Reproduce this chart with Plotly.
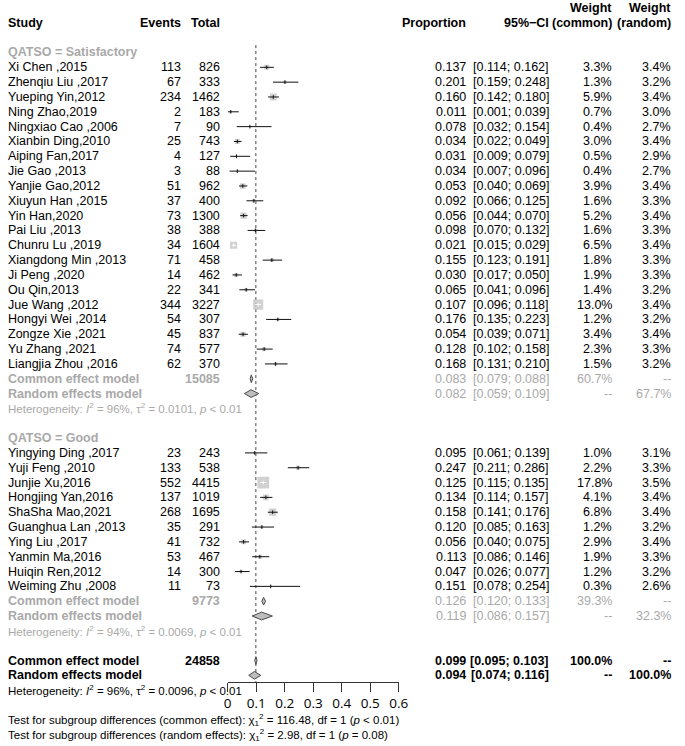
import math
import plotly.graph_objects as go

# ---------------- data ----------------
sat_names = ["Xi Chen ,2015", "Zhenqiu Liu ,2017", "Yueping Yin,2012", "Ning Zhao,2019",
             "Ningxiao Cao ,2006", "Xianbin Ding,2010", "Aiping Fan,2017", "Jie Gao ,2013",
             "Yanjie Gao,2012", "Xiuyun Han ,2015", "Yin Han,2020", "Pai Liu ,2013",
             "Chunru Lu ,2019", "Xiangdong Min ,2013", "Ji Peng ,2020", "Ou Qin,2013",
             "Jue Wang ,2012", "Hongyi Wei ,2014", "Zongze Xie ,2021", "Yu Zhang ,2021",
             "Liangjia Zhou ,2016"]
sat_events = [113, 67, 234, 2, 7, 25, 4, 3, 51, 37, 73, 38, 34, 71, 14, 22, 344, 54, 45, 74, 62]
sat_totals = [826, 333, 1462, 183, 90, 743, 127, 88, 962, 400, 1300, 388, 1604, 458, 462, 341,
              3227, 307, 837, 577, 370]
sat_prop = [0.137, 0.201, 0.160, 0.011, 0.078, 0.034, 0.031, 0.034, 0.053, 0.092, 0.056, 0.098,
            0.021, 0.155, 0.030, 0.065, 0.107, 0.176, 0.054, 0.128, 0.168]
sat_lo = [0.114, 0.159, 0.142, 0.001, 0.032, 0.022, 0.009, 0.007, 0.040, 0.066, 0.044, 0.070,
          0.015, 0.123, 0.017, 0.041, 0.096, 0.135, 0.039, 0.102, 0.131]
sat_hi = [0.162, 0.248, 0.180, 0.039, 0.154, 0.049, 0.079, 0.096, 0.069, 0.125, 0.070, 0.132,
          0.029, 0.191, 0.050, 0.096, 0.118, 0.223, 0.071, 0.158, 0.210]
sat_wc = [3.3, 1.3, 5.9, 0.7, 0.4, 3.0, 0.5, 0.4, 3.9, 1.6, 5.2, 1.6, 6.5, 1.8, 1.9, 1.4, 13.0,
          1.2, 3.4, 2.3, 1.5]
sat_wr = [3.4, 3.2, 3.4, 3.0, 2.7, 3.4, 2.9, 2.7, 3.4, 3.3, 3.4, 3.3, 3.4, 3.3, 3.3, 3.2, 3.4,
          3.2, 3.4, 3.3, 3.2]
sat_common = [0.083, 0.079, 0.088]
sat_random = [0.082, 0.059, 0.109]
sat_common_w = 60.7
sat_random_w = 67.7
sat_total = 15085
sat_het = ["96%", "0.0101", "0.01"]

good_names = ["Yingying Ding ,2017", "Yuji Feng ,2010", "Junjie Xu,2016", "Hongjing Yan,2016",
              "ShaSha Mao,2021", "Guanghua Lan ,2013", "Ying Liu ,2017", "Yanmin Ma,2016",
              "Huiqin Ren,2012", "Weiming Zhu ,2008"]
good_events = [23, 133, 552, 137, 268, 35, 41, 53, 14, 11]
good_totals = [243, 538, 4415, 1019, 1695, 291, 732, 467, 300, 73]
good_prop = [0.095, 0.247, 0.125, 0.134, 0.158, 0.120, 0.056, 0.113, 0.047, 0.151]
good_lo = [0.061, 0.211, 0.115, 0.114, 0.141, 0.085, 0.040, 0.086, 0.026, 0.078]
good_hi = [0.139, 0.286, 0.135, 0.157, 0.176, 0.163, 0.075, 0.146, 0.077, 0.254]
good_wc = [1.0, 2.2, 17.8, 4.1, 6.8, 1.2, 2.9, 1.9, 1.2, 0.3]
good_wr = [3.1, 3.3, 3.5, 3.4, 3.4, 3.2, 3.4, 3.3, 3.2, 2.6]
good_common = [0.126, 0.120, 0.133]
good_random = [0.119, 0.086, 0.157]
good_common_w = 39.3
good_random_w = 32.3
good_total = 9773
good_het = ["94%", "0.0069", "0.01"]

all_common = [0.099, 0.095, 0.103]
all_random = [0.094, 0.074, 0.116]
all_total = 24858
all_het = ["96%", "0.0096", "0.01"]

tick_vals = [0, 0.1, 0.2, 0.3, 0.4, 0.5, 0.6]
tick_text = ["0", "0.1", "0.2", "0.3", "0.4", "0.5", "0.6"]

test_common = "Test for subgroup differences (common effect): χ<sub>1</sub><sup>2</sup> = 116.48, df = 1 (<i>p</i> &lt; 0.01)"
test_random = "Test for subgroup differences (random effects): χ<sub>1</sub><sup>2</sup> = 2.98, df = 1 (<i>p</i> = 0.08)"

# ---------------- layout constants ----------------
W, H = 685, 746
ROW0, ROWH = 8.0, 14.83
AXIS_PX = 682.0
X0_PX, X6_PX = 228.3, 403.0
PX_PER_UNIT = (X6_PX - X0_PX) / 0.6

COL_STUDY = 3
COL_EVENTS = 182
COL_TOTAL = 222
COL_PROP = 473
COL_CI = 557
COL_WC = 622
COL_WR = 682

GREY = "#a9a9a9"
SQ = "#bebebe"
TXT_FONT = "Liberation Sans, Arial, sans-serif"
NUM_FONT = "Liberation Sans, Arial, sans-serif"
FS = 12.5
NFS = 12.5

annotations = []


def txt(xpx, r, s, anchor="left", bold=False, color="black", size=FS, font=TXT_FONT):
    if bold:
        s = "<b>" + s + "</b>"
    annotations.append(dict(x=xpx / W, xref="paper", y=r, yref="y", text=s, xanchor=anchor,
                            yanchor="middle", showarrow=False, borderpad=0,
                            font=dict(family=font, size=size, color=color)))


def num(xpx, r, s, bold=False, color="black"):
    txt(xpx, r, s, "right", bold, color, NFS, NUM_FONT)


def ci_str(lo, hi):
    return "[%.3f; %.3f]" % (lo, hi)


# headers
txt(COL_WC, 0, "Weight", "right", True)
txt(COL_WR, 0, "Weight", "right", True)
txt(COL_STUDY, 1, "Study", "left", True)
txt(COL_EVENTS, 1, "Events", "right", True)
txt(COL_TOTAL, 1, "Total", "right", True)
txt(COL_PROP, 1, "Proportion", "right", True)
txt(COL_CI, 1, "95%−CI", "right", True)
txt(COL_WC, 1, "(common)", "right", True)
txt(COL_WR, 1, "(random)", "right", True)

study_x, study_y, study_lo, study_hi, study_w = [], [], [], [], []
diamonds = []

groups = [
    ("QATSO = Satisfactory", sat_names, sat_events, sat_totals, sat_prop, sat_lo, sat_hi, sat_wc,
     sat_wr, sat_common, sat_random, sat_common_w, sat_random_w, sat_total, sat_het),
    ("QATSO = Good", good_names, good_events, good_totals, good_prop, good_lo, good_hi, good_wc,
     good_wr, good_common, good_random, good_common_w, good_random_w, good_total, good_het),
]


def het_text(h):
    return ("Heterogeneity: <i>I</i><sup>2</sup> = %s, τ<sup>2</sup> = %s, <i>p</i> &lt; %s"
            % (h[0], h[1], h[2]))


r = 3
for (title, names, ev, tot, prop, lo, hi, wc, wr, com, ran, comw, ranw, total, het) in groups:
    txt(COL_STUDY, r, title, "left", True, GREY)
    r += 1
    for i in range(len(names)):
        txt(COL_STUDY, r, names[i])
        txt(COL_EVENTS, r, str(ev[i]), "right")
        txt(COL_TOTAL, r, str(tot[i]), "right")
        num(COL_PROP, r, "%.3f" % prop[i])
        num(COL_CI, r, ci_str(lo[i], hi[i]))
        num(COL_WC, r, "%.1f%%" % wc[i])
        num(COL_WR, r, "%.1f%%" % wr[i])
        study_x.append(prop[i]); study_y.append(r)
        study_lo.append(lo[i]); study_hi.append(hi[i]); study_w.append(wc[i])
        r += 1
    # common
    txt(COL_STUDY, r, "Common effect model", "left", True, GREY)
    txt(COL_TOTAL, r, str(total), "right", True, GREY)
    num(COL_PROP, r, "%.3f" % com[0], color=GREY)
    num(COL_CI, r, ci_str(com[1], com[2]), color=GREY)
    num(COL_WC, r, "%.1f%%" % comw, color=GREY)
    num(COL_WR, r, "--", color=GREY)
    diamonds.append((com, r))
    r += 1
    txt(COL_STUDY, r, "Random effects model", "left", True, GREY)
    num(COL_PROP, r, "%.3f" % ran[0], color=GREY)
    num(COL_CI, r, ci_str(ran[1], ran[2]), color=GREY)
    num(COL_WC, r, "--", color=GREY)
    num(COL_WR, r, "%.1f%%" % ranw, color=GREY)
    diamonds.append((ran, r))
    r += 1
    txt(COL_STUDY, r, het_text(het), "left", color=GREY, size=11.5)
    r += 2

# overall
txt(COL_STUDY, r, "Common effect model", "left", True)
txt(COL_TOTAL, r, str(all_total), "right", True)
num(COL_PROP, r, "%.3f" % all_common[0], True)
num(COL_CI, r, ci_str(all_common[1], all_common[2]), True)
num(COL_WC, r, "100.0%", True)
num(COL_WR, r, "--", True)
diamonds.append((all_common, r))
r += 1
txt(COL_STUDY, r, "Random effects model", "left", True)
num(COL_PROP, r, "%.3f" % all_random[0], True)
num(COL_CI, r, ci_str(all_random[1], all_random[2]), True)
num(COL_WC, r, "--", True)
num(COL_WR, r, "100.0%", True)
diamonds.append((all_random, r))
r += 1
txt(COL_STUDY, r, het_text(all_het), "left", size=11.5)
r += 2
txt(COL_STUDY, r, test_common, "left", size=11.5)
r += 1
txt(COL_STUDY, r, test_random, "left", size=11.5)

# ---------------- traces ----------------
fig = go.Figure()
r_axis = (AXIS_PX - ROW0) / ROWH

# reference dotted line at the overall common estimate
fig.add_trace(go.Scatter(x=[all_common[0], all_common[0]], y=[2.5, r_axis], mode="lines",
                         line=dict(color="#444444", width=1, dash="dot"), hoverinfo="skip"))

sizes = [2.8 * math.sqrt(w) for w in study_w]
fig.add_trace(go.Scatter(x=study_x, y=study_y, mode="markers",
                         marker=dict(symbol="square", size=sizes, color=SQ, line=dict(width=0)),
                         hoverinfo="skip"))

bx, by, wx, wy = [], [], [], []
tbx, tby, twx, twy = [], [], [], []
for x, y, lo, hi, s in zip(study_x, study_y, study_lo, study_hi, sizes):
    inside = (x - lo) * PX_PER_UNIT < s / 2 and (hi - x) * PX_PER_UNIT < s / 2
    if inside:
        wx += [lo, hi, None]; wy += [y, y, None]
        twx.append(x); twy.append(y)
    else:
        bx += [lo, hi, None]; by += [y, y, None]
        tbx.append(x); tby.append(y)

fig.add_trace(go.Scatter(x=bx, y=by, mode="lines", line=dict(color="#111111", width=1),
                         hoverinfo="skip"))
fig.add_trace(go.Scatter(x=wx, y=wy, mode="lines", line=dict(color="white", width=1),
                         hoverinfo="skip"))
fig.add_trace(go.Scatter(x=tbx, y=tby, mode="markers",
                         marker=dict(symbol="line-ns", size=2.6,
                                     line=dict(color="#111111", width=1)), hoverinfo="skip"))
fig.add_trace(go.Scatter(x=twx, y=twy, mode="markers",
                         marker=dict(symbol="line-ns", size=2.6,
                                     line=dict(color="white", width=1)), hoverinfo="skip"))

DH = 0.26
for (est, lo, hi), y in diamonds:
    fig.add_trace(go.Scatter(x=[lo, est, hi, est, lo], y=[y, y - DH, y, y + DH, y],
                             mode="lines", fill="toself", fillcolor=SQ,
                             line=dict(color="#4a4a4a", width=1), hoverinfo="skip"))

fig.update_layout(
    width=W, height=H, margin=dict(l=0, r=0, t=0, b=0),
    paper_bgcolor="white", plot_bgcolor="white", showlegend=False,
    annotations=annotations,
    xaxis=dict(domain=[X0_PX / W, X6_PX / W], range=[0, 0.6], anchor="free",
               position=(H - AXIS_PX) / H, tickvals=tick_vals, ticktext=tick_text,
               ticks="outside", ticklen=9, tickwidth=1, tickcolor="#333333",
               showline=True, linecolor="#333333", linewidth=1, showgrid=False,
               zeroline=False, tickfont=dict(family="Open Sans, sans-serif", size=13.5,
                                             color="black")),
    yaxis=dict(domain=[0, 1], range=[(H - ROW0) / ROWH, -ROW0 / ROWH], visible=False,
               showgrid=False, zeroline=False),
)

fig.write_html("out.html", config={"displayModeBar": False},
               post_script="document.body.style.margin='0px';"
                           "document.body.style.overflow='hidden';")
